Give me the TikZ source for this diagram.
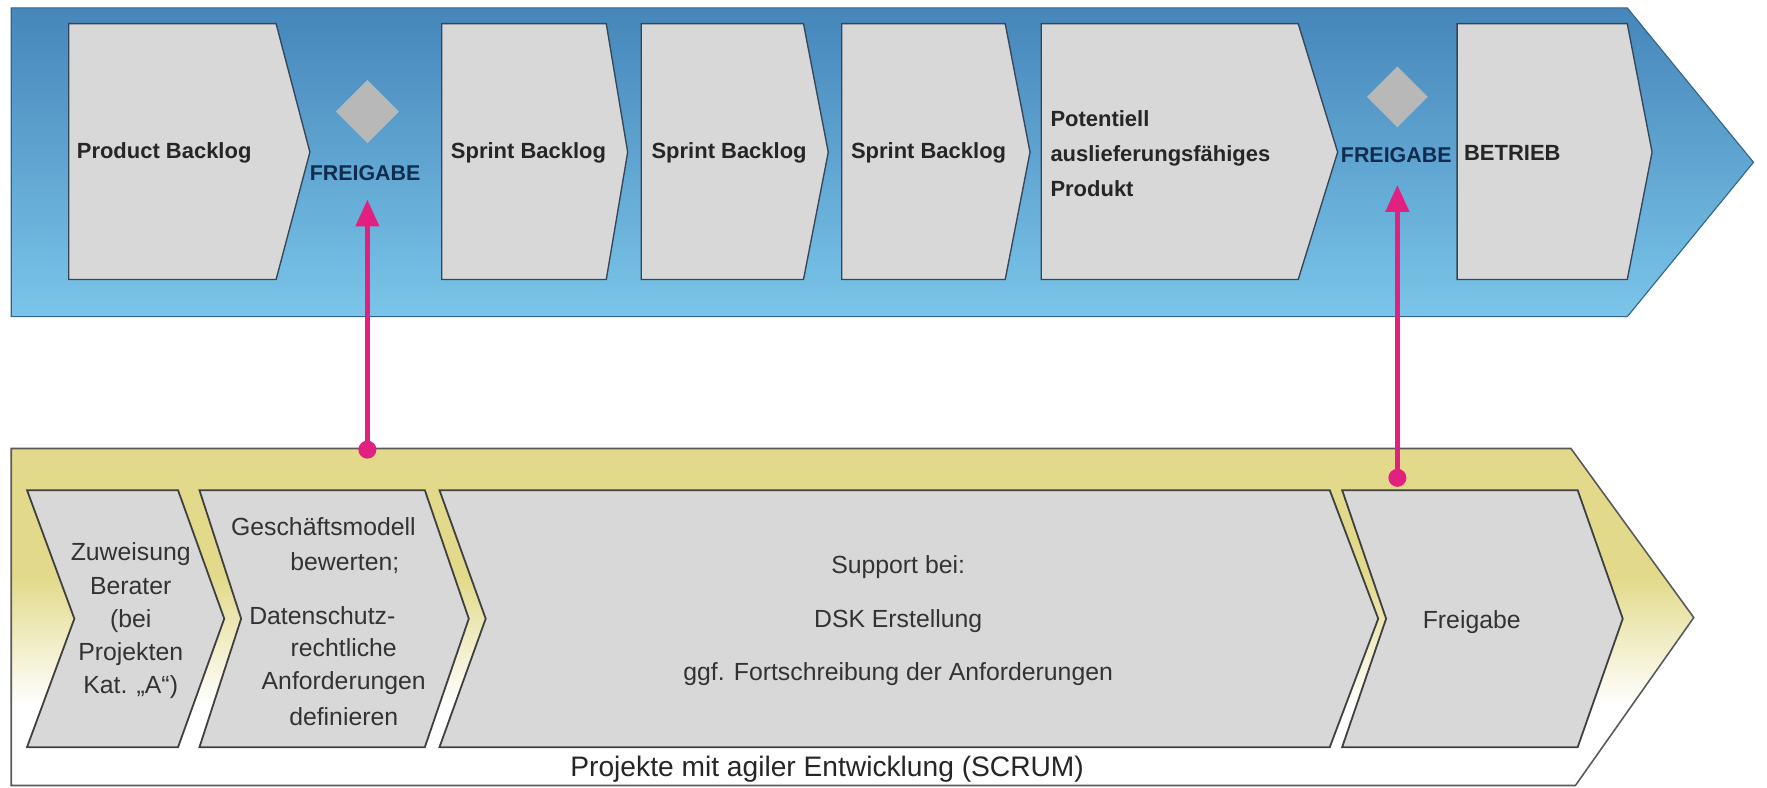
\documentclass[tikz,border=0pt]{standalone}
\usepackage{fontspec}
\setmainfont{Liberation Sans}
\usetikzlibrary{arrows.meta}
\definecolor{boxgray}{RGB}{216,216,216}
\definecolor{boxline}{RGB}{52,70,88}
\definecolor{bluetop}{RGB}{70,134,186}
\definecolor{bluebot}{RGB}{122,197,233}
\definecolor{blueline}{RGB}{50,100,140}
\definecolor{yel}{RGB}{226,218,138}
\definecolor{pinkc}{RGB}{226,32,128}
\definecolor{navy}{RGB}{16,44,78}
\definecolor{diagc}{RGB}{184,184,184}
\pgfdeclareverticalshading{yband}{100bp}{color(0bp)=(white); color(37bp)=(white); color(56bp)=(yel); color(100bp)=(yel)}
\begin{document}
\begin{tikzpicture}[x=1pt,y=-1pt,
  topbox/.style={fill=boxgray, draw=boxline, line width=1.2pt, line join=miter},
  chev/.style={fill=boxgray, draw=black!75, line width=1.6pt, line join=miter},
  toptxt/.style={font=\fontsize{19.5}{31}\selectfont\bfseries, text=black!85, inner sep=0pt},
  freitxt/.style={font=\fontsize{19}{22}\selectfont\bfseries, text=navy, inner sep=0pt},
  bottxt/.style={font=\fontsize{22}{29.5}\selectfont, text=black!80, inner sep=0pt, align=center},
  conn/.style={draw=pinkc, line width=5pt, -{Triangle[length=24pt,width=20pt]}},
  pdot/.style={circle, fill=pinkc, minimum size=16pt, inner sep=0pt},
  diam/.style={fill=diagc}
]
\useasboundingbox (0,0) rectangle (1568,699);
\fill[white] (0,0) rectangle (1568,699);

% ---------- top blue band ----------
\shade[top color=bluetop, bottom color=bluebot, draw=blueline, line width=1pt]
  (10,7) -- (1444,7) -- (1556,144) -- (1444,281) -- (10,281) -- cycle;

\draw[topbox] (61,21) -- (245,21) -- (275,135) -- (245,248) -- (61,248) -- cycle;
\draw[topbox] (392,21) -- (538,21) -- (557,135) -- (538,248) -- (392,248) -- cycle;
\draw[topbox] (569,21) -- (713,21) -- (735,135) -- (713,248) -- (569,248) -- cycle;
\draw[topbox] (747,21) -- (892,21) -- (914,135) -- (892,248) -- (747,248) -- cycle;
\draw[topbox] (924,21) -- (1152,21) -- (1187,135) -- (1152,248) -- (924,248) -- cycle;
\draw[topbox] (1293,21) -- (1444,21) -- (1466,135) -- (1444,248) -- (1293,248) -- cycle;

\fill[diam] (326,71) -- (354,99) -- (326,127) -- (298,99) -- cycle;
\fill[diam] (1240,59) -- (1267,86) -- (1240,113) -- (1213,86) -- cycle;

\node[toptxt, anchor=west] (pb) at (68,136) {Product Backlog};
\node[toptxt, anchor=west] (sb1) at (400,136) {Sprint Backlog};
\node[toptxt, anchor=west] (sb2) at (578,136) {Sprint Backlog};
\node[toptxt, anchor=west] (sb3) at (755,136) {Sprint Backlog};
\node[toptxt, anchor=west, align=left] (pot) at (932,136) {Potentiell\\auslieferungsfähiges\\Produkt};
\node[toptxt, anchor=west] (bet) at (1299,136) {BETRIEB};
\node[freitxt] (fr1) at (324,154) {FREIGABE};
\node[freitxt] (fr2) at (1239,138) {FREIGABE};

% ---------- bottom yellow band ----------
\shade[shading=yband, draw=black!65, line width=1.4pt, line join=miter]
  (10,398) -- (1394,398) -- (1503,548) -- (1398,697) -- (10,697) -- cycle;

\draw[chev] (24,435) -- (158,435) -- (199,549) -- (158,663) -- (24,663) -- (66,549) -- cycle;
\draw[chev] (177,435) -- (377,435) -- (416,549) -- (377,663) -- (177,663) -- (214,549) -- cycle;
\draw[chev] (390,435) -- (1180,435) -- (1223,549) -- (1180,663) -- (390,663) -- (431,549) -- cycle;
\draw[chev] (1191,435) -- (1400,435) -- (1440,549) -- (1400,663) -- (1191,663) -- (1230,549) -- cycle;

\node[bottxt] (zu) at (116,551) {Zuweisung\\Berater\\(bei\\Projekten\\Kat. „A“)};
\node[bottxt] (g1) at (287,467) {Geschäftsmodell};
\node[bottxt] (g2) at (306,500) {bewerten;};
\node[bottxt] (g3) at (286,546) {Datenschutz-};
\node[bottxt] (g4) at (305,575) {rechtliche};
\node[bottxt] (g5) at (305,606) {Anforderungen};
\node[bottxt] (g6) at (305,636) {definieren};
\node[bottxt, font=\fontsize{22}{47.5}\selectfont] (sup) at (797,551) {Support bei:\\DSK Erstellung\\ggf. Fortschreibung der Anforderungen};
\node[bottxt] (frg) at (1306,552) {Freigabe};
\node[font=\fontsize{25}{28}\selectfont, text=black!85, inner sep=0pt, anchor=base] (scrum) at (734,689) {Projekte mit agiler Entwicklung (SCRUM)};

% ---------- connectors ----------
\node[pdot] (d1) at (326,399) {};
\node[pdot] (d2) at (1240,424) {};
\draw[conn, shorten >=16pt] (d1.center) -- (d1 |- fr1.south);
\draw[conn, shorten >=19pt] (d2.center) -- (d2 |- fr2.south);
\end{tikzpicture}
\end{document}
